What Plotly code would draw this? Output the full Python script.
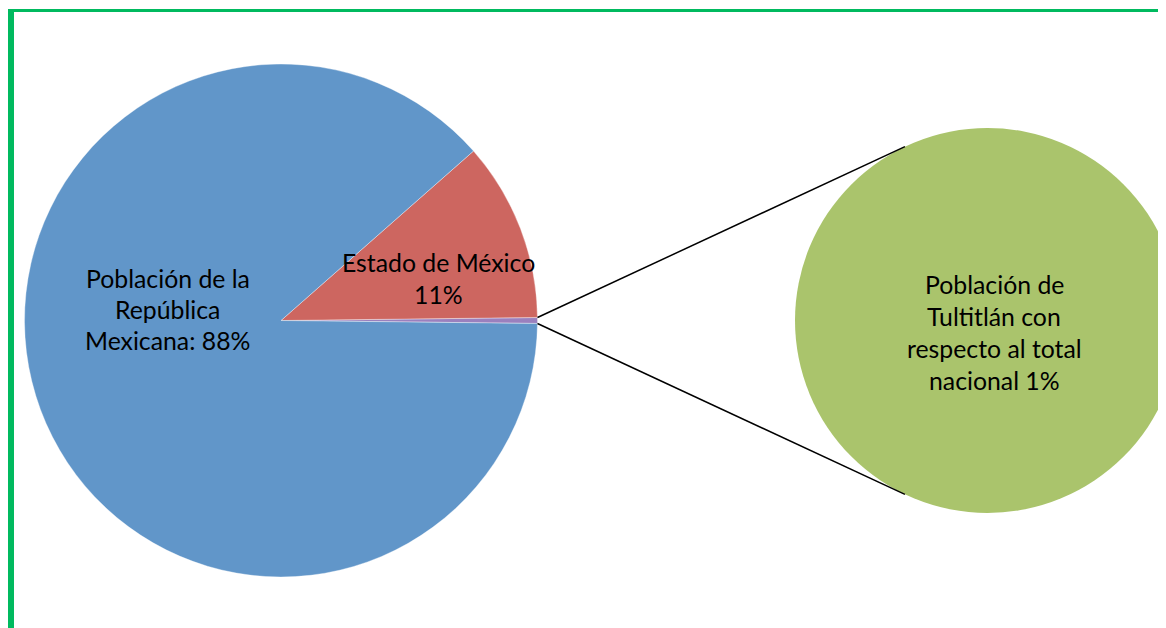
import math
import plotly.graph_objects as go

# ---- data ----
slice_labels = ["Tultitlán", "Estado de México", "Población de la República Mexicana"]
slice_values = [0.37, 11.3, 88.3]
slice_colors = ["#9A80BE", "#CD6660", "#6196C9"]
sub_labels = ["Población de Tultitlán con respecto al total nacional"]
sub_values = [1]
sub_colors = ["#AAC46C"]
label_main = ["Población de la", "República", "Mexicana: 88%"]
label_edo = ["Estado de México", "11%"]
label_sub = ["Población de", "Tultitlán con", "respecto al total", "nacional 1%"]

# ---- geometry (screen pixels; the page body has an 8px margin) ----
OFF = 8
W, H = 1166 - OFF, 628 - OFF
c1x, c1y, r1 = 281, 320.5, 256.5
c2x, c2y, r2 = 987.5, 320.5, 192.5

def px(x):
    return (x - OFF) / W

def py(y):
    return 1 - (y - OFF) / H

total = sum(slice_values)
half_small = slice_values[0] / total * 360 / 2

fig = go.Figure()
# first pie (small slice centred on 3 o'clock)
fig.add_trace(go.Pie(
    labels=slice_labels, values=slice_values, sort=False,
    direction="counterclockwise", rotation=90 - half_small,
    marker=dict(colors=slice_colors, line=dict(width=0.6, color="rgba(255,255,255,0.6)")),
    textinfo="none", hoverinfo="label+percent", showlegend=False,
    domain=dict(x=[px(c1x - r1), px(c1x + r1)], y=[py(c1y + r1), py(c1y - r1)]),
))
# second (single-slice) pie, drawn as a full disc; it runs past the right edge
fig.add_trace(go.Scatter(
    x=[c2x], y=[c2y], mode="markers", cliponaxis=False,
    marker=dict(size=2 * r2, color=sub_colors[0], line=dict(width=0)),
    hovertext=sub_labels, hoverinfo="text", showlegend=False,
))

shapes = []
# connector lines
conn_angle = math.radians(115.4)
for s in (1, -1):
    a1 = math.radians(s * half_small)
    x0 = c1x + r1 * math.cos(a1)
    y0 = c1y - r1 * math.sin(a1)
    x1 = c2x + r2 * math.cos(conn_angle)
    y1 = c2y - s * r2 * math.sin(conn_angle)
    shapes.append(dict(type="line", xref="x", yref="y",
                       x0=x0, y0=y0, x1=x1, y1=y1,
                       line=dict(color="black", width=1.5)))
# green frame
shapes.append(dict(type="line", xref="paper", yref="paper",
                   x0=px(11), y0=py(9), x1=px(11), y1=py(660),
                   line=dict(color="#00BA5F", width=6)))
shapes.append(dict(type="line", xref="paper", yref="paper",
                   x0=px(8), y0=py(10.5), x1=px(1200), y1=py(10.5),
                   line=dict(color="#00BA5F", width=3)))

font = dict(family="Lato, Open Sans, sans-serif", size=24.8, color="black")
ann = []
def add_lines(lines, cx, cy0, step):
    for i, t in enumerate(lines):
        ann.append(dict(text=t, x=cx, y=cy0 + i * step, xref="x", yref="y",
                        showarrow=False, font=font, xanchor="center", yanchor="middle"))
add_lines(label_main, 167.5, 278, 31)
add_lines(label_edo, 438.5, 262, 32)
add_lines(label_sub, 994, 284, 32.3)

fig.update_layout(
    width=W, height=H, margin=dict(l=0, r=0, t=0, b=0),
    paper_bgcolor="white", plot_bgcolor="rgba(0,0,0,0)",
    xaxis=dict(range=[OFF, OFF + W], visible=False, fixedrange=True),
    yaxis=dict(range=[OFF + H, OFF], visible=False, fixedrange=True),
    shapes=shapes, annotations=ann,
)
fig.write_html("out.html")
